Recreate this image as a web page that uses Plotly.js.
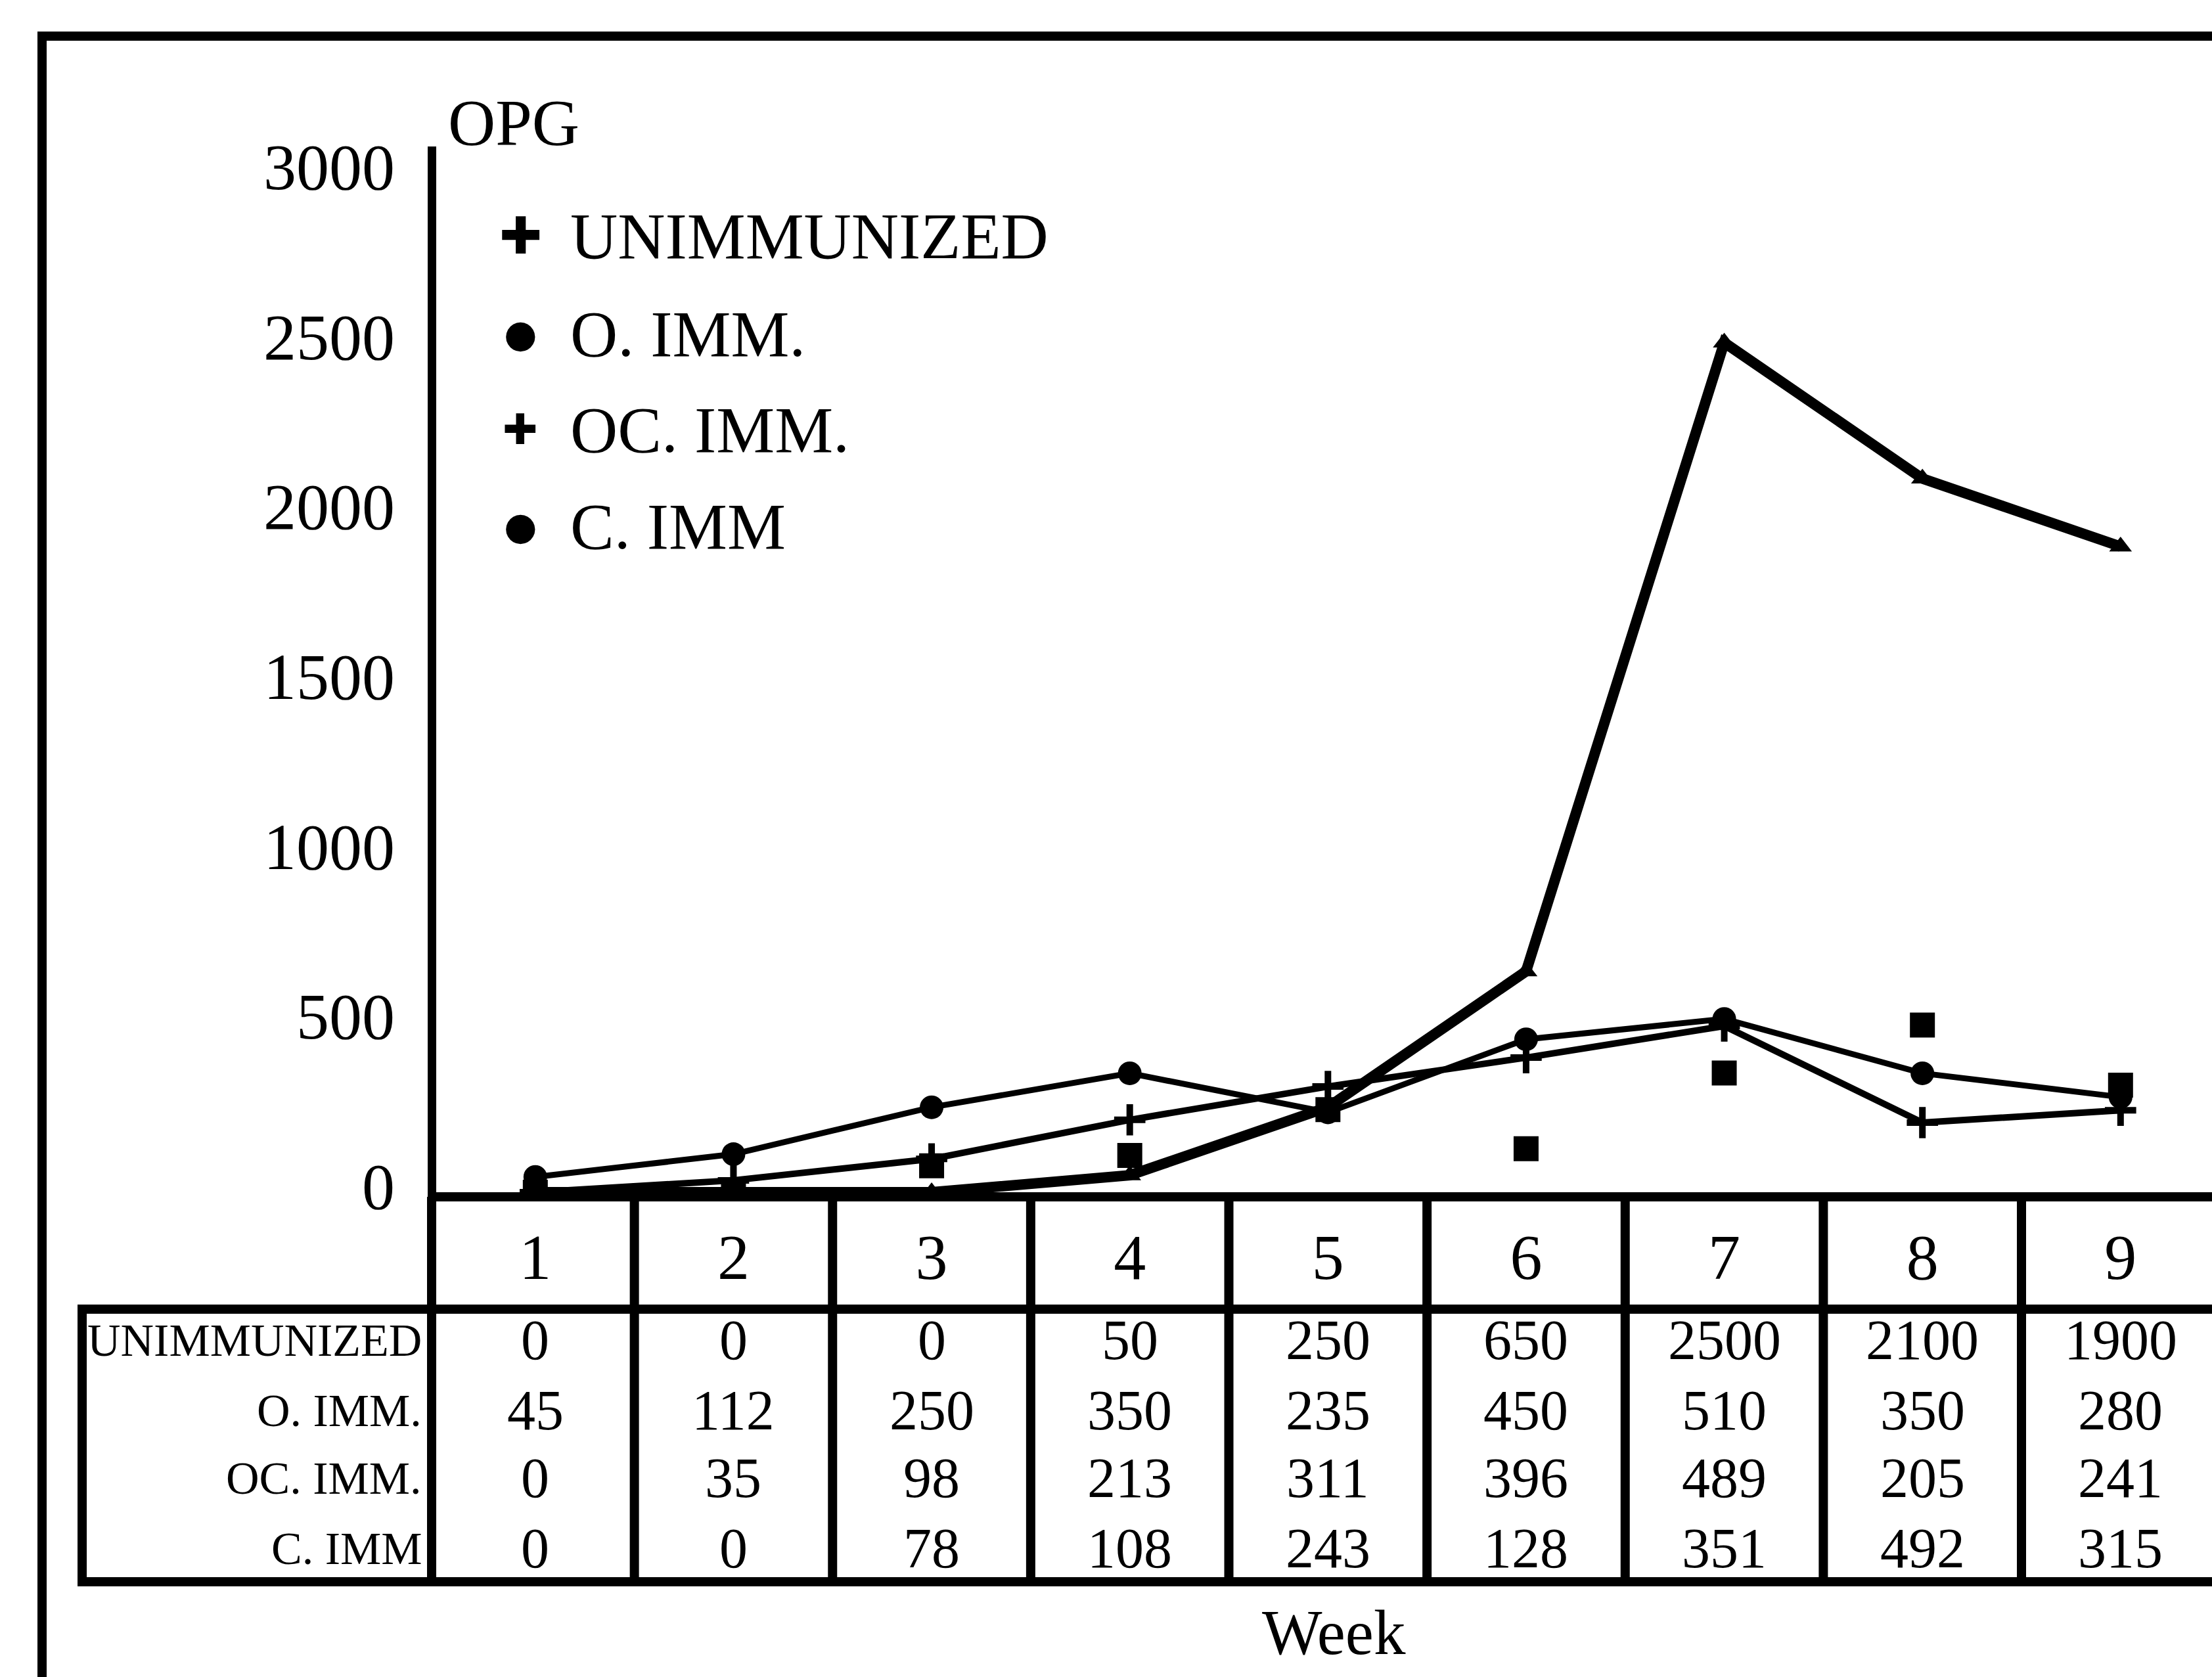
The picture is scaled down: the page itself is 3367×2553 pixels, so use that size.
<!DOCTYPE html>
<html>
<head>
<meta charset="utf-8">
<script src="https://cdn.plot.ly/plotly-3.0.1.min.js"></script>
<style>
  html, body { margin: 0; padding: 0; background: #ffffff; overflow: hidden; }
  #chart { width: 3367px; height: 2553px; }
</style>
</head>
<body>
<div id="chart"></div>
<script>
// ---- data ----
const weeks = [1, 2, 3, 4, 5, 6, 7, 8, 9];
const weekLabels = ['1', '2', '3', '4', '5', '6', '7', '8', '9'];
const seriesNames = ['UNIMMUNIZED', 'O. IMM.', 'OC. IMM.', 'C. IMM'];
const unimmunized = [0, 0, 0, 50, 250, 650, 2500, 2100, 1900];
const oImm = [45, 112, 250, 350, 235, 450, 510, 350, 280];
const ocImm = [0, 35, 98, 213, 311, 396, 489, 205, 241];
const cImm = [0, 0, 78, 108, 243, 128, 351, 492, 315];
const yTicks = [0, 500, 1000, 1500, 2000, 2500, 3000];
const yTickLabels = ['0', '500', '1000', '1500', '2000', '2500', '3000'];
const legendGlyphs = ['\u271A', '\u25CF', '\u271A', '\u25CF'];

// ---- layout geometry (pixels) ----
const W = 3367, H = 2553;
const M = { l: 664, r: 0, t: 223, b: 738 };
const plotW = W - M.l - M.r, plotH = H - M.t - M.b;
const px = x => (x - M.l) / plotW;          // pixel -> paper x
const py = y => (H - M.b - y) / plotH;      // pixel -> paper y

const FONT = '"Liberation Serif", "Times New Roman", serif';
const BLACK = '#000000';
const LW = 14;

const allSeries = [unimmunized, oImm, ocImm, cImm];

const traces = [
  {
    x: weeks, y: unimmunized, name: seriesNames[0], type: 'scatter', mode: 'lines+markers',
    line: { color: BLACK, width: 16 },
    marker: { symbol: 'triangle-up', size: 30, color: BLACK }
  },
  {
    x: weeks, y: oImm, name: seriesNames[1], type: 'scatter', mode: 'lines+markers',
    line: { color: BLACK, width: 9 },
    marker: { symbol: 'circle', size: 36, color: BLACK }
  },
  {
    x: weeks, y: ocImm, name: seriesNames[2], type: 'scatter', mode: 'lines+markers',
    line: { color: BLACK, width: 10 },
    marker: { symbol: 'cross-thin', size: 34, color: BLACK, line: { color: BLACK, width: 10 } }
  },
  {
    x: weeks, y: cImm, name: seriesNames[3], type: 'scatter', mode: 'markers',
    marker: { symbol: 'square', size: 38, color: BLACK }
  }
];

// ---- table geometry ----
const rowY = [2040, 2147, 2250, 2357];
const headerBottom = 1993, tableBottom = 2408, tableLeft = 125, axisLineX = 657, zeroLineY = 1822;

const shapes = [];
const line = (o) => Object.assign({ type: 'line', line: { color: BLACK, width: LW }, layer: 'above' }, o);

// outer frame (top + left)
shapes.push(line({ xref: 'paper', yref: 'paper', x0: px(57), x1: 1.01, y0: py(55), y1: py(55) }));
shapes.push(line({ xref: 'paper', yref: 'paper', x0: px(64), x1: px(64), y0: py(48), y1: py(H + 10) }));
// y axis line continued down through the table
shapes.push(line({ xref: 'paper', yref: 'paper', x0: px(axisLineX), x1: px(axisLineX), y0: py(zeroLineY), y1: py(tableBottom + 7) }));
// column separators between weeks
weeks.slice(0, -1).forEach(w => {
  shapes.push(line({ xref: 'x', yref: 'paper', x0: w + 0.5, x1: w + 0.5, y0: py(zeroLineY), y1: py(tableBottom) }));
});
// header bottom / table top
shapes.push(line({ xref: 'paper', yref: 'paper', x0: px(tableLeft - 7), x1: 1.01, y0: py(headerBottom), y1: py(headerBottom) }));
// table left border
shapes.push(line({ xref: 'paper', yref: 'paper', x0: px(tableLeft), x1: px(tableLeft), y0: py(headerBottom), y1: py(tableBottom + 7) }));
// table bottom border
shapes.push(line({ xref: 'paper', yref: 'paper', x0: px(tableLeft - 7), x1: 1.01, y0: py(tableBottom), y1: py(tableBottom) }));

// ---- annotations ----
const annotations = [];
// table values
allSeries.forEach((vals, i) => {
  vals.forEach((v, j) => {
    annotations.push({
      x: weeks[j], xref: 'x', y: py(rowY[i]), yref: 'paper',
      text: String(v), showarrow: false, xanchor: 'center', yanchor: 'middle',
      font: { family: FONT, size: 86, color: BLACK }
    });
  });
  // row label
  annotations.push({
    x: px(644), xref: 'paper', y: py(rowY[i]), yref: 'paper',
    text: seriesNames[i], showarrow: false, xanchor: 'right', yanchor: 'middle',
    font: { family: FONT, size: 70, color: BLACK }
  });
});
// legend
const legRowY = [359, 508, 654, 801];
const glyphSize = [78, 58, 64, 58];
seriesNames.forEach((n, i) => {
  annotations.push({
    x: px(792), xref: 'paper', y: py(legRowY[i]), yref: 'paper',
    text: legendGlyphs[i], showarrow: false, xanchor: 'center', yanchor: 'middle',
    font: { family: '"DejaVu Sans", sans-serif', size: glyphSize[i], color: BLACK }
  });
  annotations.push({
    x: px(866), xref: 'paper', y: py(legRowY[i]), yref: 'paper',
    text: n, showarrow: false, xanchor: 'left', yanchor: 'middle',
    font: { family: FONT, size: 100, color: BLACK }
  });
});
// OPG label
annotations.push({
  x: px(680), xref: 'paper', y: py(187), yref: 'paper',
  text: 'OPG', showarrow: false, xanchor: 'left', yanchor: 'middle',
  font: { family: FONT, size: 100, color: BLACK }
});
// x axis title
annotations.push({
  x: px(2030), xref: 'paper', y: py(2485), yref: 'paper',
  text: 'Week', showarrow: false, xanchor: 'center', yanchor: 'middle',
  font: { family: FONT, size: 97, color: BLACK }
});

const layout = {
  width: W, height: H,
  margin: M,
  paper_bgcolor: '#ffffff', plot_bgcolor: '#ffffff',
  showlegend: false,
  xaxis: {
    range: [0.5, 0.5 + (W - M.l - M.r) / ((3077 - M.l) / 8)],
    tickmode: 'array', tickvals: weeks, ticktext: weekLabels,
    ticks: '', showgrid: false, zeroline: false,
    showline: true, linecolor: BLACK, linewidth: 14,
    tickfont: { family: FONT, size: 98, color: BLACK },
    ticklabelstandoff: 0,
    fixedrange: true
  },
  yaxis: {
    range: [0, 3077],
    tickmode: 'array', tickvals: yTicks, ticktext: yTickLabels,
    ticks: '', showgrid: false, zeroline: false,
    showline: true, linecolor: BLACK, linewidth: 13,
    tickfont: { family: FONT, size: 100, color: BLACK },
    ticklabelstandoff: 30,
    ticklabelshift: -10,
    fixedrange: true
  },
  shapes: shapes,
  annotations: annotations
};

Plotly.newPlot('chart', traces, layout, { staticPlot: true, displayModeBar: false });
</script>
</body>
</html>
